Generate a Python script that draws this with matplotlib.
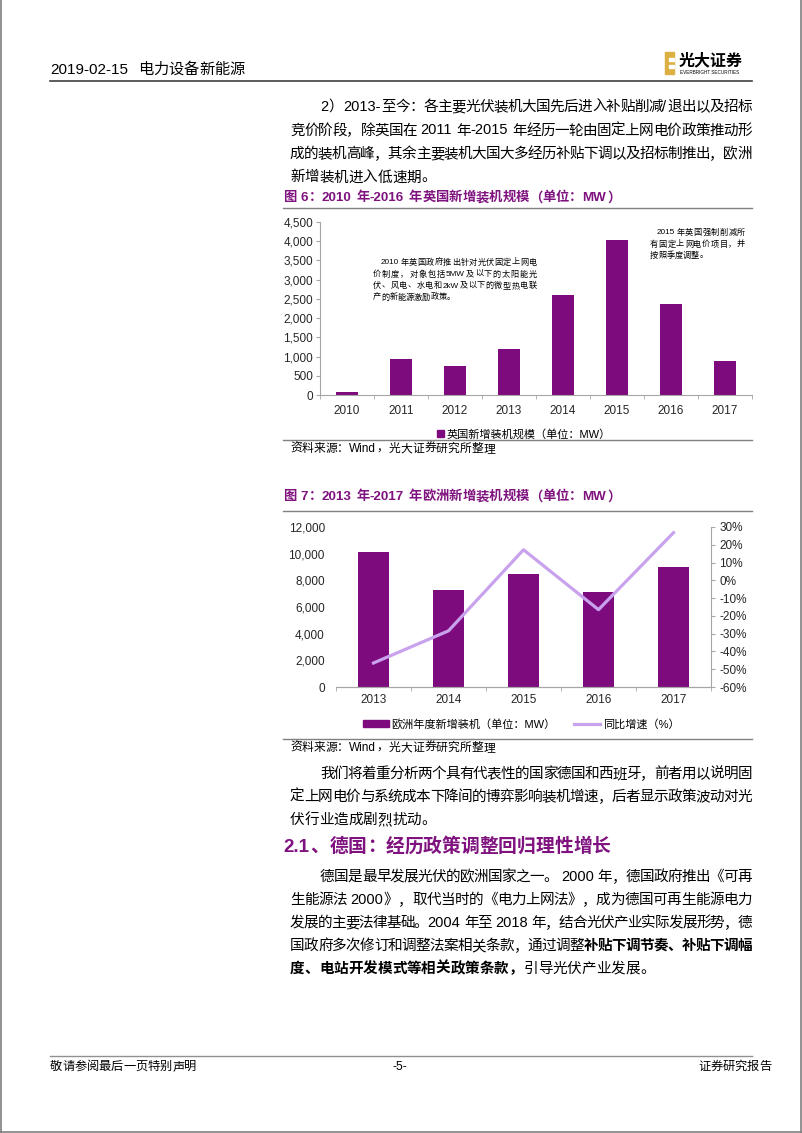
import numpy as np
import matplotlib
matplotlib.use("Agg")
import matplotlib.pyplot as plt
from matplotlib.patches import Rectangle, Patch
from matplotlib.lines import Line2D
from matplotlib.ticker import FuncFormatter

W, H = 802, 1133
PURPLE = "#7E0B7E"
LILAC = "#C9A2EE"
TITLE = "#7F127F"
GREY = "#808080"
AXGREY = "#A6A6A6"

plt.rcParams["font.family"] = ["Liberation Sans", "Noto Sans CJK SC"]

# figure 6: UK new installations (MW)
uk_years = ["2010", "2011", "2012", "2013", "2014", "2015", "2016", "2017"]
uk_mw = [87, 930, 755, 1190, 2600, 4040, 2380, 880]

# figure 7: Europe new installations (MW) and yoy growth (%)
eu_years = ["2013", "2014", "2015", "2016", "2017"]
eu_mw = [10100, 7250, 8500, 7100, 9000]
eu_yoy = [-46.5, -28.4, 17.2, -16.5, 26.8]

para1 = [
    "2）2013-至今：各主要光伏装机大国先后进入补贴削减/退出以及招标",
    "竞价阶段，除英国在 2011 年-2015 年经历一轮由固定上网电价政策推动形",
    "成的装机高峰，其余主要装机大国大多经历补贴下调以及招标制推出，欧洲",
    "新增装机进入低速期。",
]
para2 = [
    "我们将着重分析两个具有代表性的国家德国和西班牙，前者用以说明固",
    "定上网电价与系统成本下降间的博弈影响装机增速，后者显示政策波动对光",
    "伏行业造成剧烈扰动。",
]
para3 = [
    [("德国是最早发展光伏的欧洲国家之一。 2000 年，德国政府推出《可再", False)],
    [("生能源法 2000》，取代当时的《电力上网法》，成为德国可再生能源电力", False)],
    [("发展的主要法律基础。2004 年至 2018 年，结合光伏产业实际发展形势，德", False)],
    [("国政府多次修订和调整法案相关条款，通过调整", False),
     ("补贴下调节奏、补贴下调幅", True)],
    [("度、电站开发模式等相关政策条款，", True), ("引导光伏产业发展。", False)],
]
note_2010 = [
    "2010年英国政府推出针对光伏固定上网电",
    "价制度，对象包括5MW及以下的太阳能光",
    "伏、风电、水电和2kW及以下的微型热电联",
    "产的新能源激励政策。",
]
note_2015 = [
    "2015年英国强制削减所",
    "有固定上网电价项目，并",
    "按照季度调整。",
]

fig = plt.figure(figsize=(W / 100, H / 100), dpi=100)
renderer = fig.canvas.get_renderer()


def fx(x):
    return x / W


def fy(y):
    return 1 - y / H


def px_axes(left, top, right, bottom):
    return fig.add_axes([fx(left), fy(bottom), (right - left) / W,
                         (bottom - top) / H])


def hline(x0, x1, y, color=GREY, lw=1.0):
    fig.add_artist(Line2D([fx(x0), fx(x1)], [fy(y), fy(y)],
                          color=color, lw=lw))


def tokens_of(segments):
    out = []
    for txt, bold in segments:
        buf = ""
        for ch in txt:
            if ch == " " or ord(ch) >= 128:
                if buf:
                    out.append((buf, bold))
                    buf = ""
                out.append((ch, bold))
            else:
                buf += ch
        if buf:
            out.append((buf, bold))
    return out


def text_line(x0, x1, y, segments, size, color="black", justify=True,
              bold=False):
    """ place a line token by token, spread to fill x0..x1 if justify """
    if isinstance(segments, str):
        segments = [(segments, bold)]
    em = size * 100 / 72
    toks = tokens_of(segments)
    items = []
    for t, b in toks:
        weight = "bold" if b else "normal"
        if t == " ":
            items.append((None, em * 0.28, False))
        elif ord(t[0]) >= 128:
            a = fig.text(0, fy(y), t, fontsize=size, color=color,
                         fontweight=weight, ha="center", va="center")
            items.append((a, em, True))
        else:
            a = fig.text(0, fy(y), t, fontsize=size, color=color,
                         fontweight=weight, ha="left", va="center")
            w = a.get_window_extent(renderer).width + em * 0.08
            items.append((a, w, False))
    total = sum(w for _, w, _ in items)
    gap = 0
    if justify and len(items) > 1:
        gap = (x1 - x0 - total) / (len(items) - 1)
    x = x0
    for a, w, centered in items:
        if a is not None:
            a.set_x(fx(x + w / 2) if centered else fx(x))
        x += w + gap


def paragraph(lines, y0, step, size=10.5, x0=290, x1=752, indent=30):
    for i, line in enumerate(lines):
        last = i == len(lines) - 1
        text_line(x0 + (indent if i == 0 else 0), x1, y0 + i * step, line,
                  size, justify=not last)


# page frame
for xs, ys in [([0.5, 0.5], [0, H]), ([W - 1, W - 1], [0, H]),
               ([0, W], [H - 1, H - 1])]:
    fig.add_artist(Line2D([fx(v) for v in xs], [fy(v) for v in ys],
                          color="#7F7F7F", lw=1.2))

# header
text_line(50, 250, 70, "2019-02-15  电力设备新能源", 11, justify=False)
hline(50, 752, 81, color="#404040", lw=1.2)
fig.add_artist(Rectangle((fx(665), fy(74)), 9 / W, 22 / H, color="#DDB042",
                         transform=fig.transFigure))
for ny in (58, 65):
    fig.add_artist(Rectangle((fx(669), fy(ny + 3)), 5 / W, 3 / H,
                             color="white", transform=fig.transFigure))
fig.text(fx(679), fy(61), "光大证券", fontsize=11.5, fontweight="bold",
         ha="left", va="center")
fig.text(fx(680), fy(73), "EVERBRIGHT SECURITIES", fontsize=3.3,
         ha="left", va="center")

# top paragraph
paragraph(para1, 107, 23.5)

# figure 6
text_line(283, 760, 198, "图 6：2010 年-2016 年英国新增装机规模（单位：MW）",
          9.6, color=TITLE, justify=False, bold=True)
hline(283, 752, 208)

ax1 = px_axes(320, 222, 752, 395)
x1 = np.arange(len(uk_years))
ax1.bar(x1, uk_mw, width=0.42, color=PURPLE, zorder=2)
ax1.set_xlim(-0.5, len(uk_years) - 0.5)
ax1.set_ylim(0, 4500)
ax1.set_yticks(range(0, 4501, 500))
ax1.yaxis.set_major_formatter(FuncFormatter(lambda v, p: f"{v:,.0f}"))
ax1.set_xticks(x1, uk_years)
ax1.set_xticks(np.arange(-0.5, len(uk_years), 1), minor=True)
for side in ("top", "right"):
    ax1.spines[side].set_visible(False)
for side in ("left", "bottom"):
    ax1.spines[side].set_color(AXGREY)
ax1.tick_params(axis="x", which="major", length=0, pad=7, labelsize=8.5,
                labelcolor="#262626")
ax1.tick_params(axis="x", which="minor", length=3, color=AXGREY)
ax1.tick_params(axis="y", length=3, pad=2, color=AXGREY, labelsize=8.5,
                labelcolor="#262626")

for i, line in enumerate(note_2010):
    text_line(381 if i == 0 else 373, 537, 263 + i * 11.5, line, 5.9,
              justify=i < len(note_2010) - 1)
for i, line in enumerate(note_2015):
    text_line(657 if i == 0 else 650, 745, 233 + i * 11.5, line, 5.9,
              justify=i < len(note_2015) - 1)

fig.legend([Patch(color=PURPLE)], ["英国新增装机规模（单位：MW）"],
           loc="center", bbox_to_anchor=(fx(524), fy(434)), frameon=False,
           fontsize=8, handlelength=0.6, handleheight=0.6,
           handletextpad=0.2)
hline(283, 752, 440)
text_line(290, 600, 449, "资料来源：Wind，光大证券研究所整理", 8.5,
          justify=False)

# figure 7
text_line(283, 760, 497, "图 7：2013 年-2017 年欧洲新增装机规模（单位：MW）",
          9.6, color=TITLE, justify=False, bold=True)
hline(283, 752, 511)

ax2 = px_axes(336, 527, 711, 687)
x2 = np.arange(len(eu_years))
ax2.bar(x2, eu_mw, width=0.42, color=PURPLE)
ax2.set_xlim(-0.5, len(eu_years) - 0.5)
ax2.set_ylim(0, 12000)
ax2.set_yticks(range(0, 12001, 2000))
ax2.yaxis.set_major_formatter(FuncFormatter(lambda v, p: f"{v:,.0f}"))
ax2.set_xticks(x2, eu_years)
ax2.set_xticks(np.arange(-0.5, len(eu_years), 1), minor=True)
ax2b = ax2.twinx()
ax2b.plot(x2, eu_yoy, color=LILAC, lw=2.3)
ax2b.set_ylim(-60, 30)
ax2b.set_yticks(range(-60, 31, 10))
ax2b.yaxis.set_major_formatter(FuncFormatter(lambda v, p: f"{v:.0f}%"))
for ax in (ax2, ax2b):
    for side in ("top", "left", "right"):
        ax.spines[side].set_visible(False)
    ax.spines["bottom"].set_color(AXGREY)
ax2b.spines["right"].set_visible(True)
ax2b.spines["right"].set_color(AXGREY)
ax2.tick_params(axis="x", which="major", length=0, pad=5, labelsize=8.5,
                labelcolor="#262626")
ax2.tick_params(axis="x", which="minor", length=3, color=AXGREY)
ax2.tick_params(axis="y", length=0, pad=8, labelsize=8.5,
                labelcolor="#262626")
ax2b.tick_params(axis="y", length=3, pad=3, color=AXGREY, labelsize=8.5,
                 labelcolor="#262626")

fig.legend([Patch(color=PURPLE), Line2D([], [], color=LILAC, lw=2.3)],
           ["欧洲年度新增装机（单位：MW）", "同比增速（%）"],
           loc="center", bbox_to_anchor=(fx(521), fy(724)), frameon=False,
           ncol=2, fontsize=8, handlelength=2.4, handleheight=0.6,
           handletextpad=0.2, columnspacing=1.6)
hline(283, 752, 739)
text_line(290, 600, 748, "资料来源：Wind，光大证券研究所整理", 8.5,
          justify=False)

# lower text
paragraph(para2, 774, 23)
text_line(283, 760, 847, "2.1、德国：经历政策调整回归理性增长", 13.5,
          color=TITLE, justify=False, bold=True)
for i, line in enumerate(para3):
    text_line(320 if i == 0 else 290, 752, 877 + i * 23, line, 10.5,
              justify=i < len(para3) - 1)

# footer
hline(50, 752, 1056, color="#909090", lw=1.0)
text_line(50, 300, 1067, "敬请参阅最后一页特别声明", 8.8, justify=False)
fig.text(fx(400), fy(1067), "-5-", fontsize=8.8, ha="center", va="center")
text_line(698, 760, 1067, "证券研究报告", 8.8, justify=False)

fig.savefig("out.png", dpi=100)
